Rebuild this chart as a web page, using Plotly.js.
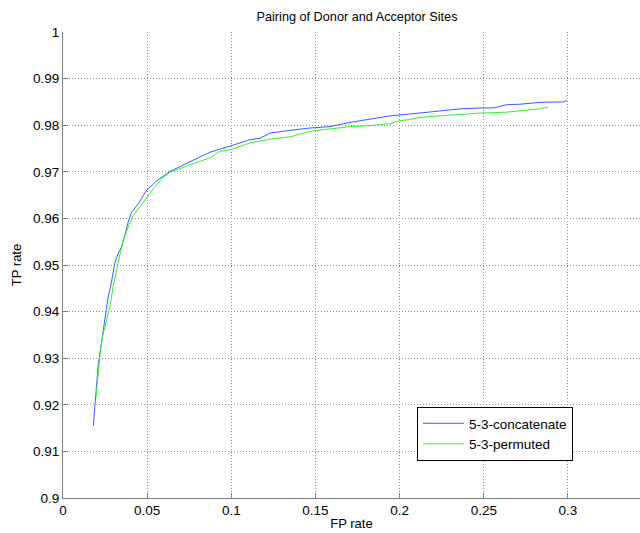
<!DOCTYPE html>
<html>
<head>
<meta charset="utf-8">
<script src="https://cdn.plot.ly/plotly-3.0.1.min.js"></script>
<style>html,body{margin:0;padding:0;background:#fff;}</style>
</head>
<body>
<div id="chart" style="width:640px;height:533px;"></div>
<script>
const concatFP = [0.018,0.0194,0.0209,0.0223,0.0239,0.0249,0.0269,0.0283,0.0308,0.0328,0.0348,0.0368,0.0387,0.0407,0.0447,0.0496,0.0555,0.0636,0.0755,0.0873,0.0992,0.1111,0.1171,0.1230,0.1349,0.1468,0.1586,0.1705,0.1824,0.1943,0.2062,0.2121,0.2240,0.2359,0.2478,0.2557,0.2636,0.2715,0.2834,0.2973,0.2993];
const concatTP = [0.9155,0.9217,0.9284,0.9320,0.9360,0.9383,0.9433,0.9454,0.9504,0.9525,0.9539,0.9564,0.9592,0.9613,0.9631,0.9660,0.9680,0.9701,0.9722,0.9742,0.9755,0.9769,0.9772,0.9783,0.9789,0.9794,0.9797,0.9806,0.9813,0.9820,0.9824,0.9826,0.9831,0.9835,0.9837,0.9837,0.9844,0.9845,0.9849,0.9850,0.9853];
const permFP = [0.0196,0.0219,0.0235,0.0259,0.0279,0.0298,0.0328,0.0357,0.0387,0.0417,0.0456,0.0496,0.0535,0.0595,0.0636,0.0755,0.0873,0.0933,0.0992,0.1111,0.1230,0.1349,0.1468,0.1586,0.1705,0.1824,0.1943,0.2002,0.2062,0.2121,0.2240,0.2359,0.2478,0.2636,0.2755,0.2834,0.2884];
const permTP = [0.9216,0.9305,0.9347,0.9383,0.9411,0.9454,0.9504,0.9553,0.9581,0.9606,0.9624,0.9645,0.9663,0.9688,0.9699,0.9715,0.9730,0.9744,0.9747,0.9762,0.9770,0.9775,0.9787,0.9792,0.9797,0.9799,0.9803,0.9810,0.9812,0.9817,0.9820,0.9823,0.9826,0.9828,0.9833,0.9835,0.9839];
const xTickVals = [0,0.05,0.1,0.15,0.2,0.25,0.3];
const xTickText = ['0','0.05','0.1','0.15','0.2','0.25','0.3'];
const yTickVals = [0.9,0.91,0.92,0.93,0.94,0.95,0.96,0.97,0.98,0.99,1];
const yTickText = ['0.9','0.91','0.92','0.93','0.94','0.95','0.96','0.97','0.98','0.99','1'];

const FONT = 'Liberation Sans, Arial, sans-serif';
const traces = [
  {x: concatFP, y: concatTP, mode: 'lines', name: '5-3-concatenate', line: {color: '#3a5cff', width: 1}},
  {x: permFP, y: permTP, mode: 'lines', name: '5-3-permuted', line: {color: '#2ef02e', width: 1}}
];
const axisCommon = {
  showline: true, linecolor: '#808080', linewidth: 1, mirror: false,
  ticks: 'inside', ticklen: 5, tickcolor: '#808080', tickwidth: 1,
  showgrid: true, gridcolor: '#909090', griddash: '1px,2px', gridwidth: 1,
  zeroline: false, tickfont: {family: FONT, size: 13.5, color: '#000'},
  tickmode: 'array', fixedrange: true
};
const layout = {
  width: 640, height: 533,
  margin: {l: 63, r: 0, t: 32, b: 35, pad: 0},
  paper_bgcolor: '#fff', plot_bgcolor: '#fff',
  font: {family: FONT, size: 13, color: '#000'},
  title: {text: 'Pairing of Donor and Acceptor Sites', x: 357/640, xref: 'container', xanchor: 'center', y: 1 - 17/533, yref: 'container', yanchor: 'middle', font: {family: FONT, size: 12.7, color: '#000'}},
  xaxis: Object.assign({}, axisCommon, {range: [0, 0.3428], tickvals: xTickVals, ticktext: xTickText,
    title: {text: 'FP rate', font: {family: FONT, size: 13}, standoff: 1}}),
  yaxis: Object.assign({}, axisCommon, {range: [0.9, 1], tickvals: yTickVals, ticktext: yTickText,
    title: {text: 'TP rate', font: {family: FONT, size: 13}, standoff: 8}}),
  showlegend: true,
  legend: {x: (417-63)/577, y: (498-407)/466, xanchor: 'left', yanchor: 'top',
    bordercolor: '#000', borderwidth: 1, bgcolor: '#fff',
    font: {family: FONT, size: 13.5, color: '#000'}, tracegroupgap: 0, itemwidth: 41}
};
Plotly.newPlot('chart', traces, layout, {staticPlot: true, displayModeBar: false});
</script>
</body>
</html>
